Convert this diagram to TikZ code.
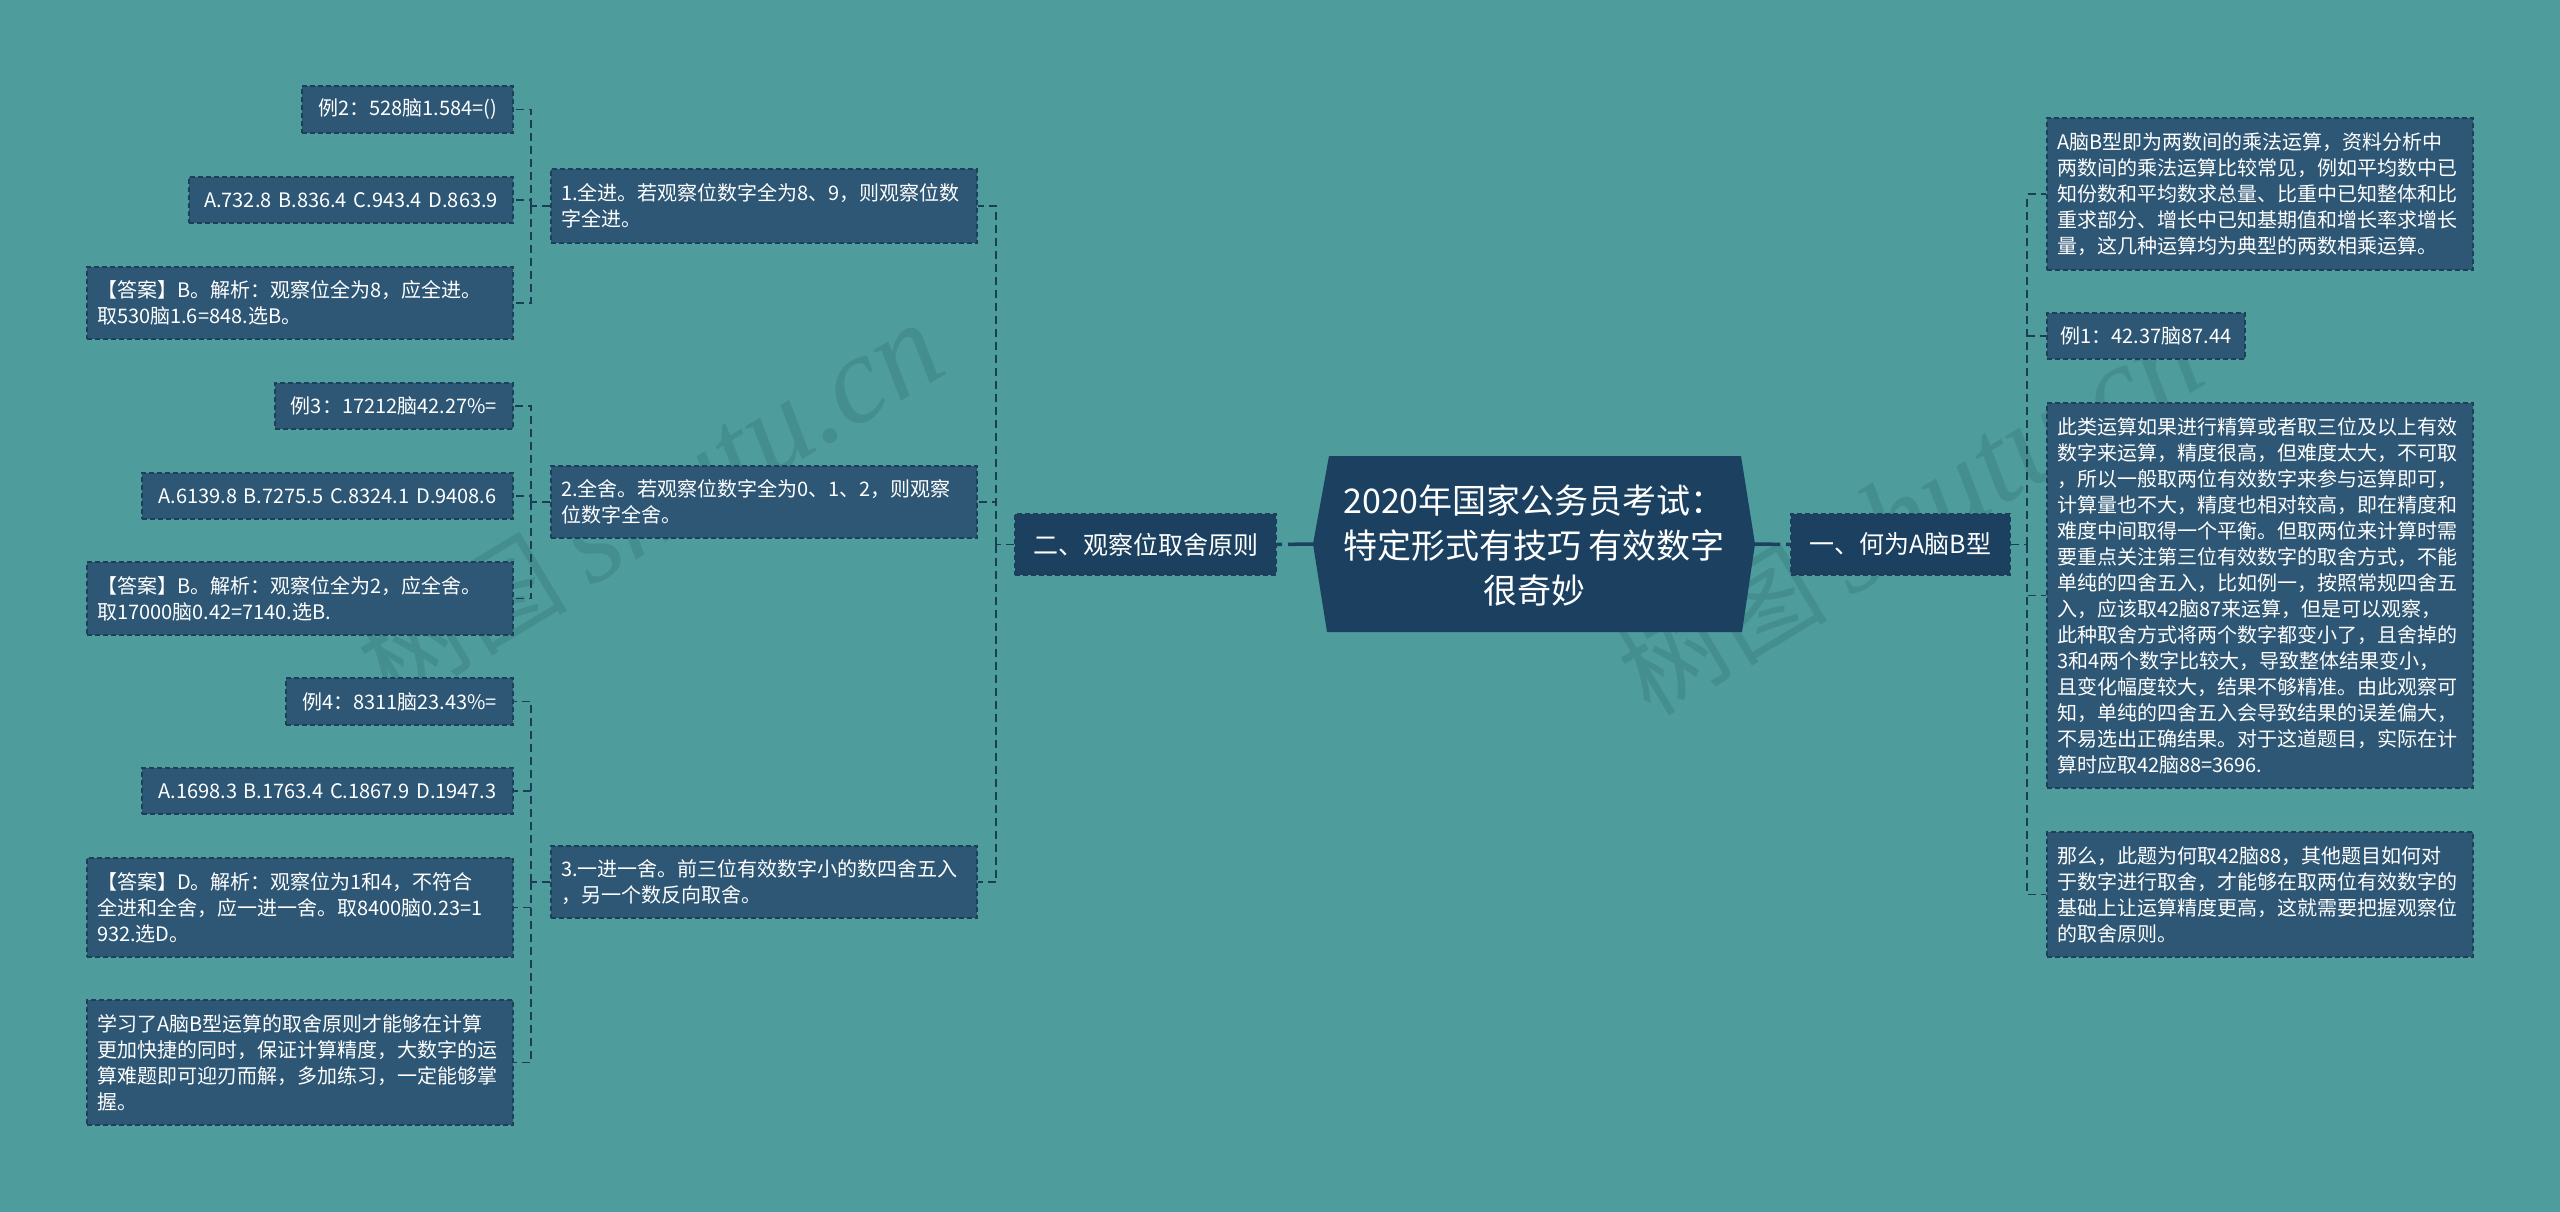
\documentclass[tikz,border=0pt]{standalone}
\usepackage{fontspec}
\setmainfont{Noto Sans CJK SC}
\newfontfamily\wmlatin{Liberation Serif}
\newfontfamily\wmcjk{Noto Sans CJK SC}
\definecolor{bgcol}{RGB}{78,156,156}
\definecolor{leafcol}{RGB}{46,87,117}
\definecolor{maincol}{RGB}{27,64,96}
\definecolor{bordercol}{RGB}{28,64,88}
\definecolor{linecol}{RGB}{26,62,86}
\definecolor{wmcol}{RGB}{68,142,144}
\begin{document}
\begin{tikzpicture}[x=1pt,y=-1pt,
  leaf/.style={draw=bordercol, fill=leafcol, line width=1.6pt, dash pattern=on 5pt off 3pt,
    text=white, inner xsep=10pt, inner ysep=0pt, font=\fontsize{20}{26}\selectfont, text width=406pt, align=left},
  lvone/.style={draw=bordercol, fill=maincol, line width=1.6pt, dash pattern=on 5pt off 3pt,
    text=white, inner sep=0pt, font=\fontsize{25}{30}\selectfont, minimum height=61pt},
  conn/.style={draw=linecol, line width=1.8pt, dash pattern=on 8pt off 5pt},
  thickconn/.style={draw=maincol, line width=3.5pt, dash pattern=on 25pt off 6pt},
  wm/.style={text=wmcol, inner sep=0pt, rotate=31}
]
\fill[bgcol] (0,0) rectangle (2560,1212);
\useasboundingbox (0,0) rectangle (2560,1212);

% watermarks
\node[wm] (wmL) at (650,505) {\wmcjk\fontsize{105}{110}\selectfont 树图\ \wmlatin\itshape\fontsize{125}{130}\selectfont shutu.cn};
\node[wm] (wmR) at (1910,515) {\wmcjk\fontsize{105}{110}\selectfont 树图\ \wmlatin\itshape\fontsize{125}{130}\selectfont shutu.cn};

% central hexagon
\coordinate (hexL) at (1313,544);
\coordinate (hexR) at (1755,544);
\fill[maincol] (hexL) -- (1329,456) -- (1741,456) -- (hexR) -- (1742,632) -- (1327,632) -- cycle;
\node[text=white, align=center, font=\fontsize{34}{45}\selectfont, inner sep=0pt] (root) at (1534,545)
  {2020年国家公务员考试：\\特定形式有技巧 有效数字\\很奇妙};

% level one
\node[lvone, minimum width=261pt] (N2) at (1145.5,544.5) {二、观察位取舍原则};
\node[lvone, minimum width=219pt] (N1) at (1900.5,544.5) {一、何为A脑B型};

% level two (left)
\node[leaf, minimum height=74pt] (M1) at (764,206) {1.全进。若观察位数字全为8、9，则观察位数\\字全进。};
\node[leaf, minimum height=72pt] (M2) at (764,502) {2.全舍。若观察位数字全为0、1、2，则观察\\位数字全舍。};
\node[leaf, minimum height=72pt] (M3) at (764,882) {3.一进一舍。前三位有效数字小的数四舍五入\\，另一个数反向取舍。};

% leaves (left)
\node[leaf, text width=191pt, align=center, minimum height=47pt] (L1a) at (407.5,109.5) {例2：528脑1.584=()};
\node[leaf, text width=304pt, align=center, minimum height=46pt] (L1b) at (351,200) {A.732.8 B.836.4 C.943.4 D.863.9};
\node[leaf, minimum height=72pt] (L1c) at (300,303) {【答案】B。解析：观察位全为8，应全进。\\取530脑1.6=848.选B。};
\node[leaf, text width=218pt, align=center, minimum height=46pt] (L2a) at (394,406) {例3：17212脑42.27\%=};
\node[leaf, text width=351pt, align=center, minimum height=46pt] (L2b) at (327.5,496) {A.6139.8 B.7275.5 C.8324.1 D.9408.6};
\node[leaf, minimum height=73pt] (L2c) at (300,598.5) {【答案】B。解析：观察位全为2，应全舍。\\取17000脑0.42=7140.选B.};
\node[leaf, text width=207pt, align=center, minimum height=47pt] (L3a) at (399.5,701.5) {例4：8311脑23.43\%=};
\node[leaf, text width=351pt, align=center, minimum height=46pt] (L3b) at (327.5,791) {A.1698.3 B.1763.4 C.1867.9 D.1947.3};
\node[leaf, minimum height=99pt] (L3c) at (300,907.5) {【答案】D。解析：观察位为1和4，不符合\\全进和全舍，应一进一舍。取8400脑0.23=1\\932.选D。};
\node[leaf, minimum height=125pt] (L3d) at (300,1062.5) {学习了A脑B型运算的取舍原则才能够在计算\\更加快捷的同时，保证计算精度，大数字的运\\算难题即可迎刃而解，多加练习，一定能够掌\\握。};

% leaves (right)
\node[leaf, minimum height=152pt] (R1) at (2260,194) {A脑B型即为两数间的乘法运算，资料分析中\\两数间的乘法运算比较常见，例如平均数中已\\知份数和平均数求总量、比重中已知整体和比\\重求部分、增长中已知基期值和增长率求增长\\量，这几种运算均为典型的两数相乘运算。};
\node[leaf, text width=178pt, align=center, minimum height=46pt] (R2) at (2146,336) {例1：42.37脑87.44};
\node[leaf, minimum height=385pt] (R3) at (2260,595.5) {此类运算如果进行精算或者取三位及以上有效\\数字来运算，精度很高，但难度太大，不可取\\，所以一般取两位有效数字来参与运算即可，\\计算量也不大，精度也相对较高，即在精度和\\难度中间取得一个平衡。但取两位来计算时需\\要重点关注第三位有效数字的取舍方式，不能\\单纯的四舍五入，比如例一，按照常规四舍五\\入，应该取42脑87来运算，但是可以观察，\\此种取舍方式将两个数字都变小了，且舍掉的\\3和4两个数字比较大，导致整体结果变小，\\且变化幅度较大，结果不够精准。由此观察可\\知，单纯的四舍五入会导致结果的误差偏大，\\不易选出正确结果。对于这道题目，实际在计\\算时应取42脑88=3696.};
\node[leaf, minimum height=125pt] (R4) at (2260,894.5) {那么，此题为何取42脑88，其他题目如何对\\于数字进行取舍，才能够在取两位有效数字的\\基础上让运算精度更高，这就需要把握观察位\\的取舍原则。};

% junctions
\coordinate (jL1) at (531,206);
\coordinate (jL2) at (531,502);
\coordinate (jL3) at (531,882);
\coordinate (jL) at (996,544.5);
\coordinate (jR) at (2027,544.5);

% connectors
\begin{scope}[on background layer/.style={}]
\draw[thickconn] (hexL) -- (N2.east);
\draw[thickconn] (hexR) -- (N1.west);
\draw[conn] (N2.west) -- (jL);
\foreach \c in {M1,M2,M3} \draw[conn] (jL) |- (\c.east);
\draw[conn] (N1.east) -- (jR);
\foreach \c in {R1,R2,R3,R4} \draw[conn] (jR) |- (\c.west);
\draw[conn] (M1.west) -- (jL1);
\foreach \c in {L1a,L1b,L1c} \draw[conn] (jL1) |- (\c.east);
\draw[conn] (M2.west) -- (jL2);
\foreach \c in {L2a,L2b,L2c} \draw[conn] (jL2) |- (\c.east);
\draw[conn] (M3.west) -- (jL3);
\foreach \c in {L3a,L3b,L3c,L3d} \draw[conn] (jL3) |- (\c.east);
\end{scope}
\end{tikzpicture}
\end{document}
